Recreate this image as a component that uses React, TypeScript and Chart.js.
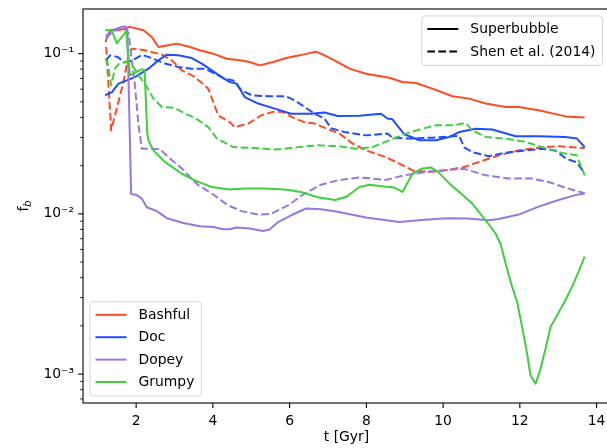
import React, { useEffect, useRef } from "react";
import { Chart, registerables } from "chart.js";

Chart.register(...registerables);

const FONT = "'DejaVu Sans', sans-serif";
const FS = 13.9;

const galaxyNames = ["Bashful", "Doc", "Dopey", "Grumpy"];
const galaxyColors = ["#ff4a22", "#1f4dff", "#9a76e0", "#3fcf3f"];
const modelNames = ["Superbubble", "Shen et al. (2014)"];

const xTicks = [2, 4, 6, 8, 10, 12, 14];
const xTickLabels = ["2", "4", "6", "8", "10", "12", "14"];
const yMajorTicks = [0.001, 0.01, 0.1];
const yMajorLabels = ["10\u207B\u00B3", "10\u207B\u00B2", "10\u207B\u00B9"];
const xLabel = "t [Gyr]";
const yLabelMain = "f";
const yLabelSub = "b";

// Bashful
const bashfulSuperbubbleT = [1.2, 1.32, 1.54, 1.84, 2.19, 2.41, 2.58, 2.8, 3.06, 3.4, 3.66, 4.01, 4.36, 4.7, 4.96, 5.22, 5.57, 5.91, 6.26, 6.69, 6.91, 7.17, 7.56, 7.99, 8.6, 8.94, 9.29, 9.72, 10.24, 10.68, 11.11, 11.63, 11.97, 12.49, 13.19, 13.69];
const bashfulSuperbubbleF = [0.118, 0.141, 0.14, 0.147, 0.14, 0.127, 0.11, 0.1126, 0.1155, 0.11, 0.105, 0.1, 0.093, 0.091, 0.0887, 0.0845, 0.0887, 0.0939, 0.0976, 0.103, 0.0976, 0.0908, 0.0806, 0.075, 0.0708, 0.0665, 0.0656, 0.0605, 0.0542, 0.0524, 0.0488, 0.0465, 0.0465, 0.0443, 0.0406, 0.0399];
const bashfulShenT = [1.22, 1.35, 1.67, 1.8, 1.89, 2.23, 2.67, 2.93, 3.19, 3.53, 3.88, 4.01, 4.14, 4.44, 4.57, 4.92, 5.26, 5.61, 5.83, 6.13, 6.39, 6.65, 6.95, 7.3, 7.64, 7.99, 8.51, 8.86, 9.25, 9.72, 10.07, 10.55, 10.94, 11.45, 11.97, 12.49, 13.01, 13.69];
const bashfulShenF = [0.11, 0.0332, 0.0665, 0.0976, 0.1075, 0.105, 0.0986, 0.0908, 0.0787, 0.0714, 0.0605, 0.0499, 0.0412, 0.0374, 0.0348, 0.0366, 0.0412, 0.0436, 0.0432, 0.0394, 0.0374, 0.0366, 0.0342, 0.0317, 0.0275, 0.0249, 0.0226, 0.0206, 0.0185, 0.0183, 0.0187, 0.0196, 0.0211, 0.0232, 0.0249, 0.0259, 0.0264, 0.0258];

// Doc
const docSuperbubbleT = [1.19, 1.37, 1.54, 1.97, 2.32, 2.58, 2.8, 3.1, 3.45, 3.71, 3.97, 4.23, 4.44, 4.62, 4.83, 5.18, 5.61, 6.04, 6.56, 6.91, 7.25, 7.82, 8.38, 8.55, 8.68, 8.99, 9.38, 9.81, 10.16, 10.42, 10.85, 11.28, 11.89, 12.49, 13.19, 13.49, 13.69];
const docSuperbubbleF = [0.055, 0.0576, 0.065, 0.0714, 0.0806, 0.0908, 0.0986, 0.0976, 0.0939, 0.0867, 0.0787, 0.0714, 0.0665, 0.065, 0.0536, 0.0488, 0.0454, 0.0422, 0.0422, 0.0429, 0.0408, 0.0409, 0.0422, 0.0394, 0.0389, 0.0314, 0.0288, 0.0288, 0.0302, 0.0324, 0.034, 0.0336, 0.0305, 0.0305, 0.0302, 0.0295, 0.0261];
const docShenT = [1.21, 1.32, 1.51, 1.71, 1.9, 2.16, 2.42, 2.75, 3.1, 3.45, 3.79, 4.05, 4.31, 4.53, 4.75, 5.01, 5.44, 5.91, 6.13, 6.39, 6.65, 6.91, 7.08, 7.43, 7.99, 8.55, 8.68, 9.12, 9.72, 10.42, 10.55, 10.76, 11.19, 11.63, 12.15, 12.58, 12.93, 13.19, 13.48, 13.69];
const docShenF = [0.0908, 0.0976, 0.0955, 0.0882, 0.0908, 0.0983, 0.0935, 0.0867, 0.0825, 0.0806, 0.0806, 0.075, 0.0698, 0.0681, 0.059, 0.055, 0.0542, 0.0542, 0.0511, 0.0465, 0.0422, 0.0394, 0.0342, 0.0324, 0.0309, 0.0317, 0.0299, 0.0295, 0.0299, 0.0307, 0.026, 0.0243, 0.0229, 0.0241, 0.0249, 0.0255, 0.0249, 0.0222, 0.021, 0.0179];

// Dopey
const dopeySuperbubbleT = [1.21, 1.37, 1.63, 1.71, 1.77, 1.87, 2.02, 2.15, 2.28, 2.54, 2.8, 3.23, 3.66, 4.01, 4.27, 4.44, 4.61, 4.96, 5.31, 5.48, 5.7, 6.04, 6.43, 6.82, 7.25, 7.99, 8.86, 9.51, 10.11, 10.63, 11.19, 11.45, 11.97, 12.49, 13.01, 13.45, 13.69];
const dopeySuperbubbleF = [0.128, 0.14, 0.147, 0.148, 0.144, 0.0133, 0.0131, 0.01245, 0.011, 0.0104, 0.0094, 0.00877, 0.00837, 0.00828, 0.00802, 0.00802, 0.00822, 0.0081, 0.00782, 0.00798, 0.00889, 0.0098, 0.0108, 0.0107, 0.0103, 0.0095, 0.0089, 0.0092, 0.0094, 0.00935, 0.00912, 0.0093, 0.0099, 0.0111, 0.0122, 0.0131, 0.0134];
const dopeyShenT = [1.21, 1.4, 1.64, 1.8, 1.97, 2.06, 2.15, 2.36, 2.62, 2.84, 3.19, 3.62, 3.97, 4.4, 4.75, 5.18, 5.52, 5.96, 6.39, 6.82, 7.25, 7.82, 8.51, 8.99, 9.59, 10.11, 10.55, 11.11, 11.71, 12.32, 12.75, 13.19, 13.69];
const dopeyShenF = [0.1245, 0.138, 0.145, 0.135, 0.063, 0.036, 0.0255, 0.0255, 0.0253, 0.0226, 0.0192, 0.0151, 0.0134, 0.0113, 0.0104, 0.0099, 0.01, 0.0113, 0.0134, 0.0152, 0.0162, 0.0169, 0.0163, 0.0174, 0.0183, 0.0188, 0.0191, 0.0174, 0.0166, 0.0166, 0.0158, 0.01456, 0.01346];

// Grumpy
const grumpySuperbubbleT = [1.19, 1.36, 1.5, 1.74, 1.84, 2.15, 2.22, 2.29, 2.32, 2.45, 2.75, 3.19, 3.53, 3.97, 4.44, 4.83, 5.35, 5.87, 6.3, 6.73, 7.19, 7.48, 7.82, 8.08, 8.47, 8.73, 8.94, 9.2, 9.46, 9.68, 9.87, 10.16, 10.42, 10.76, 11.11, 11.37, 11.5, 11.63, 11.8, 11.93, 12.06, 12.19, 12.28, 12.41, 12.54, 12.67, 12.8, 12.97, 13.14, 13.36, 13.53, 13.69];
const grumpySuperbubbleF = [0.14, 0.14, 0.116, 0.138, 0.0732, 0.08, 0.0787, 0.0319, 0.0288, 0.0249, 0.0211, 0.0178, 0.0162, 0.0147, 0.0142, 0.0144, 0.0144, 0.0142, 0.0137, 0.0127, 0.0122, 0.0128, 0.0147, 0.0152, 0.0148, 0.0146, 0.0137, 0.0178, 0.0192, 0.0195, 0.0183, 0.0155, 0.0137, 0.0116, 0.00912, 0.00754, 0.00646, 0.0049, 0.0035, 0.00282, 0.00197, 0.00134, 0.00098, 0.00087, 0.00108, 0.00144, 0.00197, 0.00233, 0.00275, 0.0035, 0.00434, 0.0054];
const grumpyShenT = [1.2, 1.27, 1.35, 1.45, 1.56, 1.76, 1.93, 2.1, 2.28, 2.45, 2.67, 3.01, 3.27, 3.53, 3.88, 4.1, 4.53, 5.05, 5.65, 6.22, 6.74, 7.3, 7.73, 8.16, 8.6, 9.03, 9.46, 9.81, 10.24, 10.59, 10.76, 11.11, 11.63, 12.15, 12.58, 13.1, 13.48, 13.69];
const grumpyShenF = [0.0935, 0.0845, 0.0634, 0.081, 0.087, 0.0887, 0.0825, 0.0714, 0.0619, 0.0524, 0.0465, 0.0459, 0.0422, 0.0398, 0.0348, 0.0296, 0.0261, 0.0258, 0.0252, 0.0261, 0.0268, 0.0264, 0.0255, 0.0261, 0.0288, 0.0317, 0.034, 0.0357, 0.0357, 0.0369, 0.0332, 0.0302, 0.0295, 0.0281, 0.0261, 0.024, 0.0232, 0.0174];

const series = [
  { galaxy: 0, model: 0, t: bashfulSuperbubbleT, f: bashfulSuperbubbleF },
  { galaxy: 0, model: 1, t: bashfulShenT, f: bashfulShenF },
  { galaxy: 1, model: 0, t: docSuperbubbleT, f: docSuperbubbleF },
  { galaxy: 1, model: 1, t: docShenT, f: docShenF },
  { galaxy: 2, model: 0, t: dopeySuperbubbleT, f: dopeySuperbubbleF },
  { galaxy: 2, model: 1, t: dopeyShenT, f: dopeyShenF },
  { galaxy: 3, model: 0, t: grumpySuperbubbleT, f: grumpySuperbubbleF },
  { galaxy: 3, model: 1, t: grumpyShenT, f: grumpyShenF },
];

const X_MIN = 0.615;
const X_MAX = 14.35;
const Y_MIN = 0.00066;
const Y_MAX = 0.19;
const DASH = [7.7, 3.3];
const LW = 2;

function yMinorTicks(): number[] {
  const out: number[] = [];
  for (let e = -4; e <= 0; e++) {
    for (let m = 2; m <= 9; m++) {
      const v = m * Math.pow(10, e);
      if (v >= Y_MIN && v <= Y_MAX) out.push(v);
    }
  }
  return out;
}

function roundRectPath(ctx: CanvasRenderingContext2D, x: number, y: number, w: number, h: number, r: number) {
  ctx.beginPath();
  ctx.moveTo(x + r, y);
  ctx.lineTo(x + w - r, y);
  ctx.quadraticCurveTo(x + w, y, x + w, y + r);
  ctx.lineTo(x + w, y + h - r);
  ctx.quadraticCurveTo(x + w, y + h, x + w - r, y + h);
  ctx.lineTo(x + r, y + h);
  ctx.quadraticCurveTo(x, y + h, x, y + h - r);
  ctx.lineTo(x, y + r);
  ctx.quadraticCurveTo(x, y, x + r, y);
  ctx.closePath();
}

type LegendItem = { text: string; color: string; dash: number[] };

function drawLegend(ctx: CanvasRenderingContext2D, items: LegendItem[], anchorX: number, anchorY: number, corner: "tr" | "bl") {
  ctx.save();
  ctx.font = `${FS}px ${FONT}`;
  const textOffset = 48.5;
  const pitch = 22.4;
  const firstOff = 13;
  const lastOff = 14;
  let maxW = 0;
  for (const it of items) maxW = Math.max(maxW, ctx.measureText(it.text).width);
  const w = textOffset + maxW + 7;
  const h = firstOff + pitch * (items.length - 1) + lastOff;
  const x = corner === "tr" ? anchorX - w : anchorX;
  const y = corner === "tr" ? anchorY : anchorY - h;
  roundRectPath(ctx, x, y, w, h, 3);
  ctx.fillStyle = "rgba(255,255,255,0.8)";
  ctx.fill();
  ctx.lineWidth = 1;
  ctx.strokeStyle = "rgba(204,204,204,0.8)";
  ctx.stroke();
  items.forEach((it, i) => {
    const cy = y + firstOff + i * pitch;
    ctx.beginPath();
    ctx.setLineDash(it.dash);
    ctx.strokeStyle = it.color;
    ctx.lineWidth = LW;
    ctx.lineCap = "butt";
    ctx.moveTo(x + 5.5, cy);
    ctx.lineTo(x + 36.5, cy);
    ctx.stroke();
    ctx.setLineDash([]);
    ctx.fillStyle = "#000";
    ctx.textBaseline = "middle";
    ctx.textAlign = "left";
    ctx.fillText(it.text, x + textOffset, cy + 0.5);
  });
  ctx.restore();
}

const axesPlugin = {
  id: "mplAxes",
  afterDraw(chart: any) {
    const ctx: CanvasRenderingContext2D = chart.ctx;
    const { left, right, top, bottom } = chart.chartArea;
    const xs = chart.scales.x;
    const ys = chart.scales.y;
    ctx.save();
    ctx.strokeStyle = "#000";
    ctx.lineWidth = 1.1;
    for (const v of xTicks) {
      const px = xs.getPixelForValue(v);
      ctx.beginPath();
      ctx.moveTo(px, bottom);
      ctx.lineTo(px, bottom + 4.9);
      ctx.stroke();
    }
    for (const v of yMajorTicks) {
      const py = ys.getPixelForValue(v);
      ctx.beginPath();
      ctx.moveTo(left, py);
      ctx.lineTo(left - 4.9, py);
      ctx.stroke();
    }
    ctx.lineWidth = 0.85;
    for (const v of yMinorTicks()) {
      const py = ys.getPixelForValue(v);
      ctx.beginPath();
      ctx.moveTo(left, py);
      ctx.lineTo(left - 2.8, py);
      ctx.stroke();
    }
    ctx.lineWidth = 1.1;
    ctx.strokeRect(left, top, right - left, bottom - top);

    ctx.fillStyle = "#000";
    ctx.font = `${FS}px ${FONT}`;
    ctx.textAlign = "center";
    ctx.textBaseline = "middle";
    ctx.fillText(xLabel, (left + right) / 2, 437);

    ctx.save();
    ctx.translate(24, (top + bottom) / 2);
    ctx.rotate(-Math.PI / 2);
    ctx.font = `${FS}px ${FONT}`;
    const wf = ctx.measureText(yLabelMain).width;
    ctx.font = `italic ${FS * 0.7}px ${FONT}`;
    const wb = ctx.measureText(yLabelSub).width;
    const x0 = -(wf + wb) / 2;
    ctx.textAlign = "left";
    ctx.textBaseline = "alphabetic";
    ctx.font = `${FS}px ${FONT}`;
    ctx.fillText(yLabelMain, x0, 4);
    ctx.font = `italic ${FS * 0.7}px ${FONT}`;
    ctx.fillText(yLabelSub, x0 + wf, 7);
    ctx.restore();

    drawLegend(
      ctx,
      modelNames.map((n, i) => ({ text: n, color: "#000", dash: i === 1 ? DASH : [] })),
      right - 7.5,
      top + 7,
      "tr"
    );
    drawLegend(
      ctx,
      galaxyNames.map((n, i) => ({ text: n, color: galaxyColors[i], dash: [] })),
      left + 7,
      bottom - 7,
      "bl"
    );
    ctx.restore();
  },
};

export default function App() {
  const ref = useRef<HTMLCanvasElement>(null);
  useEffect(() => {
    const canvas = ref.current;
    if (!canvas) return;
    const datasets = series.map((s, i) => ({
      label: `${galaxyNames[s.galaxy]} - ${modelNames[s.model]}`,
      data: s.t.map((t, k) => ({ x: t, y: s.f[k] })),
      borderColor: galaxyColors[s.galaxy],
      backgroundColor: galaxyColors[s.galaxy],
      borderWidth: LW,
      borderDash: s.model === 1 ? DASH : [],
      borderJoinStyle: "round" as const,
      borderCapStyle: "butt" as const,
      pointRadius: 0,
      tension: 0,
      fill: false,
      order: -i,
    }));
    const chart = new Chart(canvas, {
      type: "line",
      data: { datasets },
      options: {
        animation: false,
        responsive: false,
        devicePixelRatio: 1,
        events: [],
        layout: { padding: { left: 0, right: 10, top: 9, bottom: 0 } },
        plugins: {
          legend: { display: false },
          tooltip: { enabled: false },
        },
        scales: {
          x: {
            type: "linear",
            min: X_MIN,
            max: X_MAX,
            grid: { display: false, drawTicks: false },
            border: { display: false },
            afterBuildTicks: (s: any) => {
              s.ticks = xTicks.map((v) => ({ value: v }));
            },
            afterFit: (s: any) => {
              s.height = 45;
              s.paddingLeft = 0;
              s.paddingRight = 0;
              s.paddingTop = 0;
              s.paddingBottom = 0;
            },
            ticks: {
              padding: 10,
              color: "#000",
              font: { family: FONT, size: FS },
              maxRotation: 0,
              autoSkip: false,
              callback: (v: any) => {
                const i = xTicks.indexOf(Number(v));
                return i >= 0 ? xTickLabels[i] : "";
              },
            },
          },
          y: {
            type: "logarithmic",
            min: Y_MIN,
            max: Y_MAX,
            grid: { display: false, drawTicks: false },
            border: { display: false },
            afterBuildTicks: (s: any) => {
              const vals = [...yMajorTicks, ...yMinorTicks()].sort((a, b) => a - b);
              s.ticks = vals.map((v) => ({ value: v }));
            },
            afterFit: (s: any) => {
              s.width = 83;
              s.paddingLeft = 0;
              s.paddingRight = 0;
              s.paddingTop = 0;
              s.paddingBottom = 0;
            },
            ticks: {
              padding: 9,
              color: "#000",
              font: { family: FONT, size: FS },
              autoSkip: false,
              callback: (v: any) => {
                const n = Number(v);
                const i = yMajorTicks.findIndex((m) => Math.abs(m - n) / m < 1e-6);
                return i >= 0 ? yMajorLabels[i] : "";
              },
            },
          },
        },
      },
      plugins: [axesPlugin],
    });
    return () => chart.destroy();
  }, []);
  return (
    <div
      style={{
        position: "fixed",
        left: 0,
        top: 0,
        width: 607,
        height: 448,
        overflow: "hidden",
        background: "#fff",
      }}
    >
      <canvas ref={ref} width={620} height={448} style={{ width: 620, height: 448, display: "block" }} />
    </div>
  );
}
